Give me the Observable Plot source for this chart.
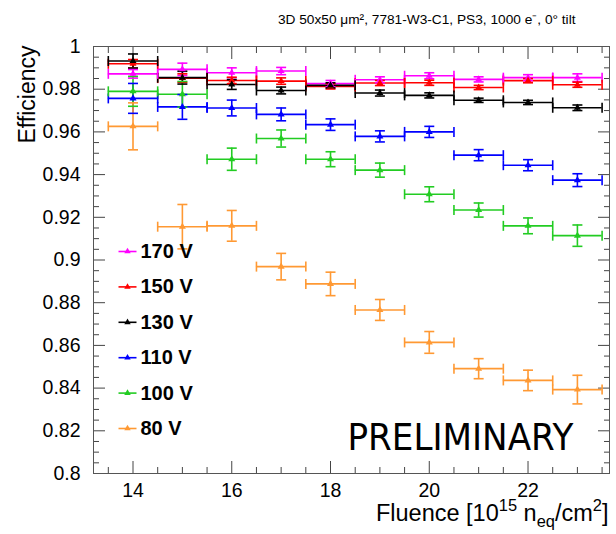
<!DOCTYPE html>
<html><head><meta charset="utf-8">
<script src="https://cdn.jsdelivr.net/npm/d3@7"></script>
<script src="https://cdn.jsdelivr.net/npm/@observablehq/plot@0.6"></script>
<style>body{margin:0;background:#fff}</style>
</head><body><div id="chart"></div>
<script>
// ---- data ----
const fluence = [14, 15, 16, 17, 18, 19, 20, 21, 22, 23];
const binHalfWidth = 0.5;
const seriesLabels = ["170 V", "150 V", "130 V", "110 V", "100 V", "80 V"];
const eff170 = [0.9872, 0.9893, 0.9877, 0.9885, 0.9826, 0.9844, 0.9863, 0.9846, 0.9854, 0.9854];
const err170 = [0.0020, 0.0029, 0.0023, 0.0017, 0.0015, 0.0014, 0.0014, 0.0012, 0.0014, 0.0018];
const eff150 = [0.9919, 0.9852, 0.9841, 0.9838, 0.9813, 0.9829, 0.9830, 0.9808, 0.9840, 0.9821];
const err150 = [0.0020, 0.0020, 0.0015, 0.0015, 0.0012, 0.0012, 0.0012, 0.0010, 0.0010, 0.0012];
const eff130 = [0.9932, 0.9854, 0.9822, 0.9794, 0.9818, 0.9782, 0.9771, 0.9748, 0.9738, 0.9713];
const err130 = [0.0033, 0.0030, 0.0023, 0.0016, 0.0012, 0.0014, 0.0012, 0.0010, 0.0010, 0.0013];
const eff110 = [0.9757, 0.9717, 0.9712, 0.9682, 0.9634, 0.9579, 0.9600, 0.9491, 0.9444, 0.9374];
const err110 = [0.0070, 0.0058, 0.0037, 0.0030, 0.0027, 0.0026, 0.0026, 0.0026, 0.0026, 0.0030];
const eff100 = [0.9790, 0.9776, 0.9472, 0.9569, 0.9472, 0.9421, 0.9308, 0.9234, 0.9160, 0.9114];
const err100 = [0.0070, 0.0060, 0.0052, 0.0040, 0.0035, 0.0033, 0.0035, 0.0033, 0.0037, 0.0050];
const eff80  = [0.9626, 0.9156, 0.9160, 0.8969, 0.8888, 0.8766, 0.8614, 0.8491, 0.8436, 0.8393];
const err80  = [0.0110, 0.0104, 0.0072, 0.0062, 0.0055, 0.0049, 0.0051, 0.0047, 0.0048, 0.0067];
const xTickValues = [14, 16, 18, 20, 22];
const yTickValues = [0.8, 0.82, 0.84, 0.86, 0.88, 0.9, 0.92, 0.94, 0.96, 0.98, 1];
const titleText = "3D 50x50 \u03bcm\u00b2, 7781-W3-C1, PS3, 1000 e\u207b, 0\u00b0 tilt";
const yLabelText = "Efficiency";
const xLabelParts = [["Fluence [10", 0], ["15", 1], [" n", 0], ["eq", -1], ["/cm", 0], ["2", 1], ["]", 0]];
const watermarkText = "PRELIMINARY";

// ---- styles ----
const palette = ["#ff00ff", "#ff0000", "#000000", "#0000ff", "#22cc22", "#ff9933"];

const effs = [eff170, eff150, eff130, eff110, eff100, eff80];
const errs = [err170, err150, err130, err110, err100, err80];
const rows = seriesLabels.flatMap((s, i) => fluence.map((f, j) => ({series: s, x: f, y: effs[i][j], e: errs[i][j]})));

const hLine = {draw(ctx, size) { const r = Math.sqrt(size / Math.PI); ctx.moveTo(-r, 0); ctx.lineTo(r, 0); }};
const vLine = {draw(ctx, size) { const r = Math.sqrt(size / Math.PI); ctx.moveTo(0, -r); ctx.lineTo(0, r); }};

const xMinor = d3.range(13.5, 23.51, 0.5).filter(v => !xTickValues.includes(v));
const yMinor = d3.range(0.8, 1.0001, 0.005).filter(v => !yTickValues.some(t => Math.abs(t - v) < 1e-6));

const fmt = d => String(+d.toFixed(2));
const axisColor = "#444";
const sw = 1.6;

const legendMarks = seriesLabels.flatMap((s, i) => [
  Plot.dot([s], {frameAnchor: "top-left", dx: 34, dy: 205 + 35.4 * i, symbol: hLine, r: 9, stroke: d => d, strokeWidth: sw}),
  Plot.dot([s], {frameAnchor: "top-left", dx: 34, dy: 205 + 35.4 * i, symbol: "triangle", r: 2.4, fill: d => d, stroke: null}),
  Plot.text([s], {frameAnchor: "top-left", dx: 47, dy: 205 + 35.4 * i, text: d => d, textAnchor: "start", lineAnchor: "middle", fontSize: 20, fontWeight: "bold", fill: "black"})
]);

const chart = Plot.plot({
  width: 616, height: 534,
  marginLeft: 93, marginRight: 7, marginTop: 46, marginBottom: 61,
  style: {fontFamily: "'Liberation Sans', Arial, sans-serif", fontSize: "19px", background: "white", color: "black"},
  x: {domain: [13.2, 23.65], label: null},
  y: {domain: [0.8, 1.0], label: null},
  color: {domain: seriesLabels, range: palette},
  marks: [
    // axes (ROOT-style inward ticks on all sides)
    Plot.axisX(xTickValues, {anchor: "bottom", tickSize: 0, tickPadding: 10, tickFormat: fmt, fontSize: 19.5, label: null}),
    Plot.axisY(yTickValues, {anchor: "left", tickSize: 0, tickPadding: 13, tickFormat: fmt, fontSize: 19.5, label: null}),
    Plot.axisX(xTickValues, {anchor: "bottom", tickSize: -12, fill: "none", stroke: axisColor, label: null}),
    Plot.axisX(xMinor, {anchor: "bottom", tickSize: -6, fill: "none", stroke: axisColor, label: null}),
    Plot.axisX(xTickValues, {anchor: "top", tickSize: -12, fill: "none", stroke: axisColor, label: null}),
    Plot.axisX(xMinor, {anchor: "top", tickSize: -6, fill: "none", stroke: axisColor, label: null}),
    Plot.axisY(yTickValues, {anchor: "left", tickSize: -12, fill: "none", stroke: axisColor, label: null}),
    Plot.axisY(yMinor, {anchor: "left", tickSize: -6, fill: "none", stroke: axisColor, label: null}),
    Plot.axisY(yTickValues, {anchor: "right", tickSize: -12, fill: "none", stroke: axisColor, label: null}),
    Plot.axisY(yMinor, {anchor: "right", tickSize: -6, fill: "none", stroke: axisColor, label: null}),
    Plot.frame({stroke: "#555"}),
    // data: horizontal (bin) and vertical (stat) error bars with end caps
    Plot.ruleY(rows, {y: "y", x1: d => d.x - binHalfWidth, x2: d => d.x + binHalfWidth, stroke: "series", strokeWidth: sw}),
    Plot.ruleX(rows, {x: "x", y1: d => d.y - d.e, y2: d => d.y + d.e, stroke: "series", strokeWidth: sw}),
    Plot.dot(rows, {x: d => d.x - binHalfWidth, y: "y", symbol: vLine, r: 5, stroke: "series", strokeWidth: sw}),
    Plot.dot(rows, {x: d => d.x + binHalfWidth, y: "y", symbol: vLine, r: 5, stroke: "series", strokeWidth: sw}),
    Plot.dot(rows, {x: "x", y: d => d.y - d.e, symbol: hLine, r: 5, stroke: "series", strokeWidth: sw}),
    Plot.dot(rows, {x: "x", y: d => d.y + d.e, symbol: hLine, r: 5, stroke: "series", strokeWidth: sw}),
    Plot.dot(rows, {x: "x", y: "y", symbol: "triangle", r: 2.6, fill: "series", stroke: null}),
    // legend
    ...legendMarks,
    // texts
    Plot.text([titleText], {frameAnchor: "top-right", dx: -34, dy: -23, text: d => d, textAnchor: "end", lineAnchor: "bottom", fontSize: 13.7, fill: "black"}),
    Plot.text([yLabelText], {frameAnchor: "top-left", dx: -66, dy: -1, text: d => d, rotate: -90, textAnchor: "end", lineAnchor: "middle", fontSize: 23, fill: "black"}),
    Plot.text([xLabelParts.map(p => p[0]).join("")], {frameAnchor: "bottom-right", dx: -1, dy: 47, text: d => d, textAnchor: "end", lineAnchor: "bottom", fontSize: 23.5, fill: "black"}),
    Plot.text([watermarkText], {frameAnchor: "bottom-left", dx: 254, dy: -24, text: d => d, textAnchor: "start", lineAnchor: "bottom", fontSize: 37, fontFamily: "'DejaVu Sans', Verdana, sans-serif", fill: "black"})
  ]
});
document.getElementById("chart").appendChild(chart);

// rich text for the x label (superscripts / subscript)
const plain = xLabelParts.map(p => p[0]).join("");
d3.select(chart).selectAll("text").each(function () {
  if (this.textContent === plain) {
    const t = d3.select(this);
    t.text(null);
    let offset = 0;
    for (const [s, lv] of xLabelParts) {
      const target = lv > 0 ? -0.42 * 23.5 : lv < 0 ? 0.28 * 23.5 : 0;
      const ts = t.append("tspan").text(s);
      if (target !== offset) ts.attr("dy", `${(target - offset).toFixed(1)}px`);
      if (lv !== 0) ts.style("font-size", "70%");
      offset = target;
    }
  }
  if (this.textContent === watermarkText) {
    this.setAttribute("textLength", "226");
    this.setAttribute("lengthAdjust", "spacingAndGlyphs");
  }
});
</script>
</body></html>
